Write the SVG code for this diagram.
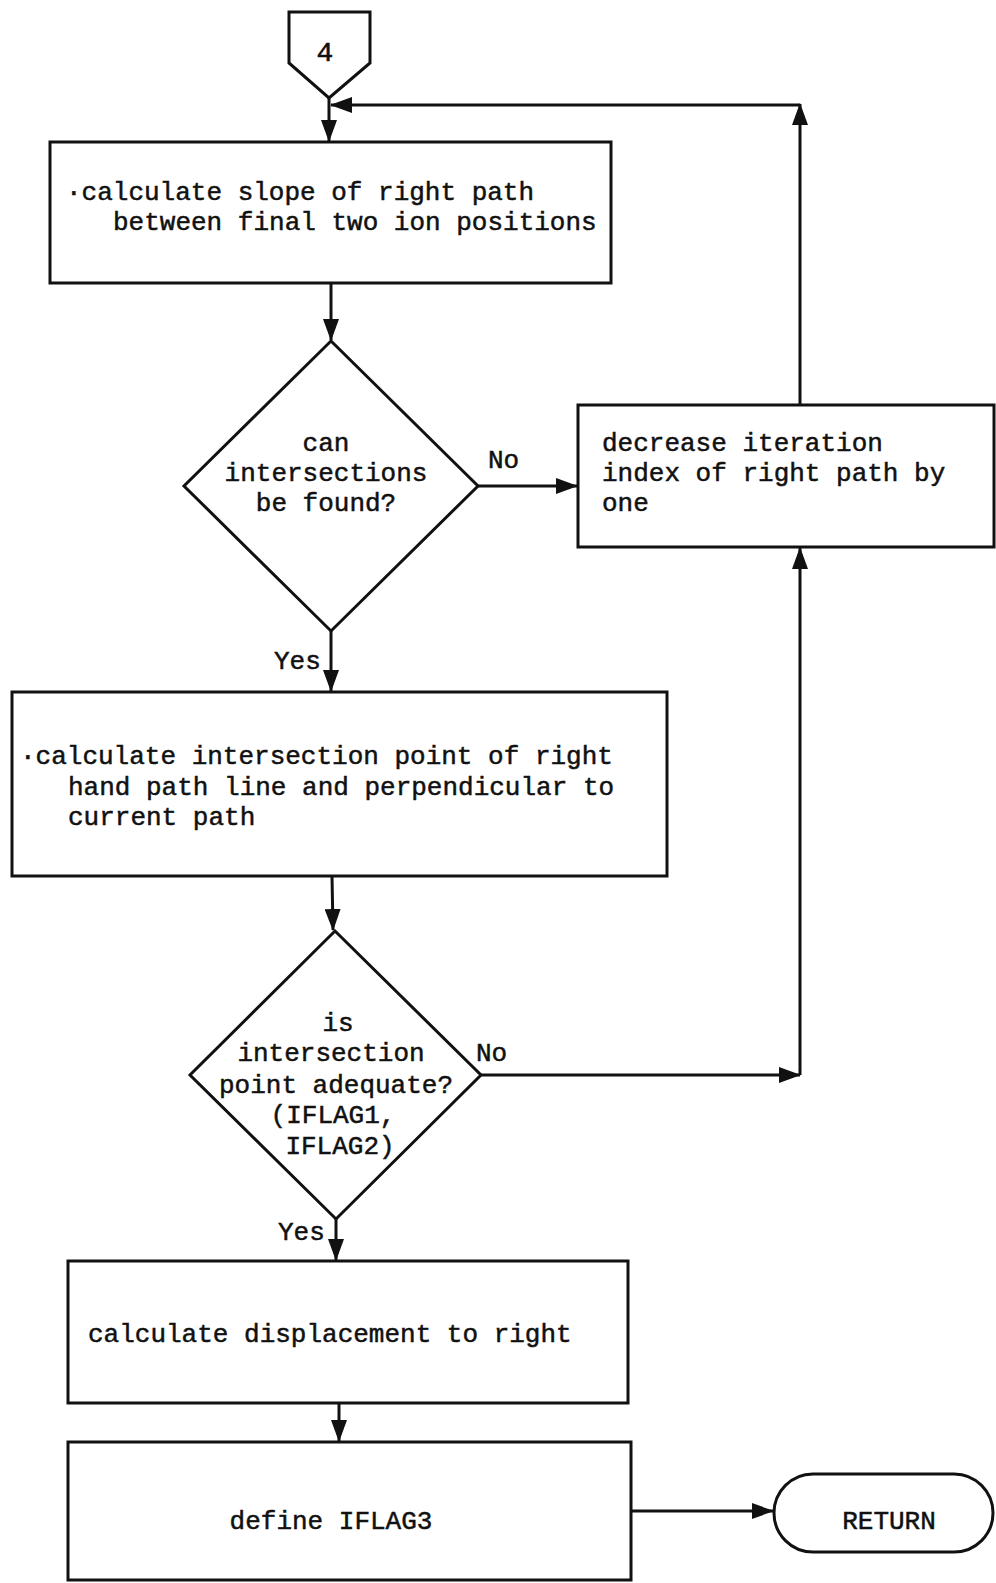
<svg xmlns="http://www.w3.org/2000/svg" width="996" height="1583" viewBox="0 0 996 1583">
<style>
.s{fill:#fff;stroke:#111;stroke-width:3}
.c{fill:none;stroke:#111;stroke-width:3}
text{font-family:"Liberation Mono","DejaVu Sans Mono",monospace;font-size:26px;fill:#111;stroke:#111;stroke-width:0.5}
.m{text-anchor:middle}
</style>
<defs>
<marker id="a" markerUnits="userSpaceOnUse" markerWidth="22" markerHeight="16" refX="21" refY="8" orient="auto">
<path d="M0,0 L22,8 L0,16 z" fill="#111"/>
</marker>
</defs>
<rect width="996" height="1583" fill="#fff"/>
<g id="conn4">
<path class="s" d="M289,12 L370,12 L370,63 L329,98 L289,63 Z"/>
<text class="m" x="325" y="61" style="font-size:28px">4</text>
</g>
<g id="box1">
<rect class="s" x="50" y="142" width="561" height="141"/>
<text x="66" y="200">·calculate slope of right path</text>
<text x="113" y="230">between final two ion positions</text>
</g>
<g id="dec1">
<path class="s" d="M331,341 L478,486 L331,631 L184,486 Z"/>
<text class="m" x="326" y="451">can</text>
<text class="m" x="326" y="481">intersections</text>
<text class="m" x="326" y="511">be found?</text>
</g>
<g id="box2">
<rect class="s" x="578" y="405" width="416" height="142"/>
<text x="602" y="451">decrease iteration</text>
<text x="602" y="481">index of right path by</text>
<text x="602" y="511">one</text>
</g>
<g id="box3">
<rect class="s" x="12" y="692" width="655" height="184"/>
<text x="20" y="764">·calculate intersection point of right</text>
<text x="68" y="795">hand path line and perpendicular to</text>
<text x="68" y="825">current path</text>
</g>
<g id="dec2">
<path class="s" d="M335,931 L481,1075 L336,1219 L190,1075 Z"/>
<text class="m" x="338" y="1031">is</text>
<text class="m" x="331" y="1061">intersection</text>
<text class="m" x="336" y="1093">point adequate?</text>
<text class="m" x="333" y="1123">(IFLAG1,</text>
<text class="m" x="340" y="1154">IFLAG2)</text>
</g>
<g id="box4">
<rect class="s" x="68" y="1261" width="560" height="142"/>
<text x="88" y="1342">calculate displacement to right</text>
</g>
<g id="box5">
<rect class="s" x="68" y="1442" width="563" height="138"/>
<text class="m" x="331" y="1529">define IFLAG3</text>
</g>
<g id="ret">
<rect class="s" x="774" y="1474" width="219" height="78" rx="39"/>
<text class="m" x="889" y="1529">RETURN</text>
</g>
<g id="connectors">
<path class="c" d="M329,98 L329,141" marker-end="url(#a)"/>
<path class="c" d="M331,283 L331,340" marker-end="url(#a)"/>
<path class="c" d="M478,486 L577,486" marker-end="url(#a)"/>
<path class="c" d="M800,405 L800,104" marker-end="url(#a)"/>
<path class="c" d="M800,105 L331,105" marker-end="url(#a)"/>
<path class="c" d="M331,631 L331,691" marker-end="url(#a)"/>
<path class="c" d="M332,876 L333,930" marker-end="url(#a)"/>
<path class="c" d="M481,1075 L800,1075" marker-end="url(#a)"/>
<path class="c" d="M800,1075 L800,548" marker-end="url(#a)"/>
<path class="c" d="M336,1219 L336,1260" marker-end="url(#a)"/>
<path class="c" d="M339,1403 L339,1441" marker-end="url(#a)"/>
<path class="c" d="M631,1511 L773,1511" marker-end="url(#a)"/>
<text x="488" y="468">No</text>
<text x="274" y="669">Yes</text>
<text x="476" y="1061">No</text>
<text x="278" y="1240">Yes</text>
</g>
</svg>
